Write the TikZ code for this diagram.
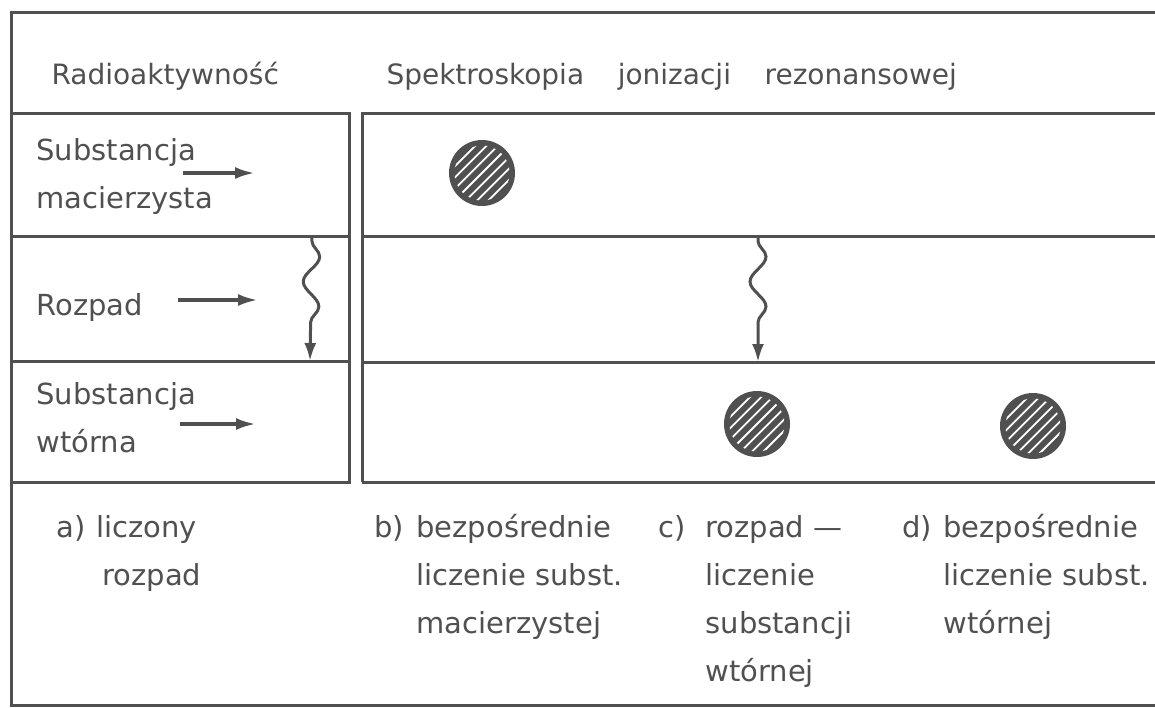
\documentclass[tikz,border=0pt]{standalone}
\usepackage{fontspec}
\setmainfont{DejaVu Sans}
\usetikzlibrary{arrows.meta,decorations.pathmorphing}
\definecolor{ink}{RGB}{80,80,80}

\begin{document}
\begin{tikzpicture}[x=0.5pt,y=-0.5pt,color=ink,line width=1.5pt,
  hd/.style={anchor=base west,inner sep=0pt,font=\fontsize{14}{17}\selectfont},
  lbl/.style={anchor=base west,inner sep=0pt,align=left,font=\fontsize{14.5}{24}\selectfont},
  arr/.style={line width=1.8pt,-{Latex[length=10pt,width=6pt]}},
  wave/.style={decorate,decoration={snake,segment length=25pt,amplitude=4pt,pre length=2pt,post length=9pt},
    -{Latex[length=9pt,width=6pt]}},
  ball/.style={circle,fill=ink,minimum size=33pt,inner sep=0pt,
    path picture={
      \begin{scope}[shift={(path picture bounding box.center)}]
      \clip (0pt,0pt) circle (13.8pt);
      \foreach \k in {-3,...,3}
        \draw[white,line width=0.9pt] (\k*5.66pt-16pt,-16pt) -- ++(32pt,32pt);
      \end{scope}}}]
\useasboundingbox (0,0) rectangle (1155,707);

\draw (1155,12) -- (11,12) -- (11,705) -- (1155,705);
\draw (11,113) rectangle (349,482);
\draw (11,236) -- (349,236) (11,361) -- (349,361);
\draw (362,482) -- (362,113) -- (1155,113);
\draw (362,236) -- (1155,236) (362,362) -- (1155,362) (362,482) -- (1155,482);

\node[hd] (RA) at (50,84) {Radioaktywność};
\node[hd] (SP) at (385,84) {Spektroskopia\hspace{1.2em}jonizacji\hspace{1.2em}rezonansowej};

\node[lbl] (SM) at (35,208) {Substancja\\macierzysta};
\node[lbl] (RZ) at (35,315) {Rozpad};
\node[lbl] (SW) at (35,452) {Substancja\\wtórna};

\coordinate (SMa) at (183,173);
\coordinate (SMb) at (255,173);
\coordinate (RZa) at (178,300);
\coordinate (RZb) at (258,300);
\coordinate (SWa) at (180,424);
\coordinate (SWb) at (256,424);
\draw[arr] (SMa) -- (SMb);
\draw[arr] (RZa) -- (RZb);
\draw[arr] (SWa) -- (SWb);

\coordinate (W1a) at (312,237);
\coordinate (W1b) at (310,361);
\coordinate (W2a) at (758,237);
\coordinate (W2b) at (758,362);
\draw[wave] (W1a) -- (W1b);
\draw[wave] (W2a) -- (W2b);

\node[ball] (B1) at (482,173) {};
\node[ball] (B2) at (757,424) {};
\node[ball] (B3) at (1033,426) {};

\node[lbl] (LA) at (55,537) {a)};
\node[lbl] (TA) at (95,585) {liczony\\\hspace*{3pt}rozpad};
\node[lbl] (LB) at (373,537) {b)};
\node[lbl] (TB) at (415,633) {bezpośrednie\\liczenie subst.\\macierzystej};
\node[lbl] (LC) at (657,537) {c)};
\node[lbl] (TC) at (704,681) {rozpad —\\liczenie\\substancji\\wtórnej};
\node[lbl] (LD) at (901,537) {d)};
\node[lbl] (TD) at (942,633) {bezpośrednie\\liczenie subst.\\wtórnej};
\end{tikzpicture}
\end{document}
